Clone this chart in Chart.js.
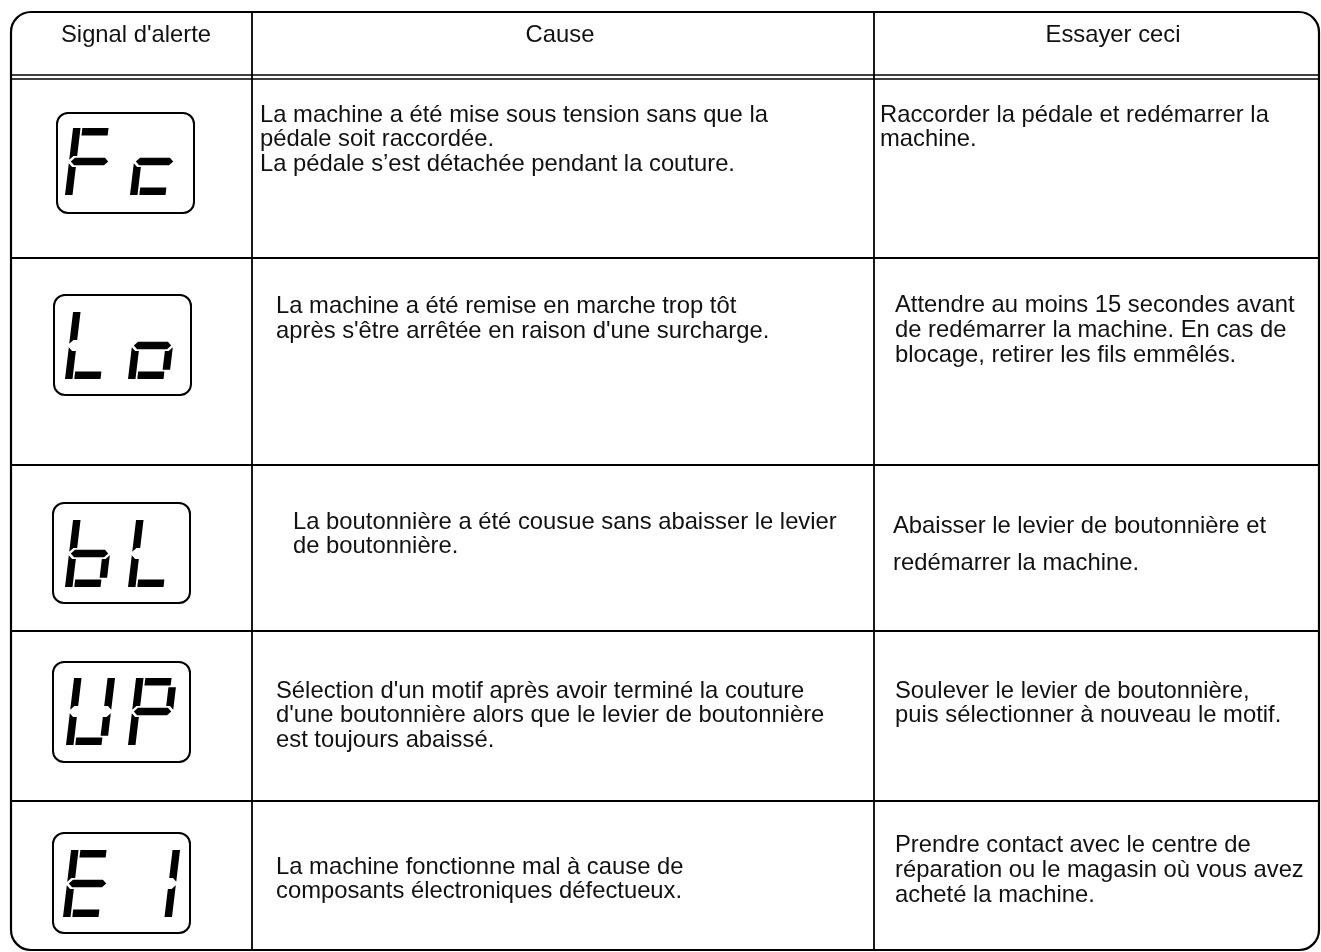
<!DOCTYPE html>
<html><head><meta charset="utf-8">
<script src="https://cdn.jsdelivr.net/npm/chart.js@4"></script>
<style>html,body{margin:0;padding:0;background:#fff}canvas{display:block}</style>
</head><body>
<canvas id="c" width="1321" height="952"></canvas>
<script>
// ---- data ----
const headers = ["Signal d'alerte", "Cause", "Essayer ceci"];
const signals = ["Fc", "Lo", "bL", "UP", "E1"];
const causes = [
  ["La machine a été mise sous tension sans que la", "pédale soit raccordée.", "La pédale s’est détachée pendant la couture."],
  ["La machine a été remise en marche trop tôt", "après s'être arrêtée en raison d'une surcharge."],
  ["La boutonnière a été cousue sans abaisser le levier", "de boutonnière."],
  ["Sélection d'un motif après avoir terminé la couture", "d'une boutonnière alors que le levier de boutonnière", "est toujours abaissé."],
  ["La machine fonctionne mal à cause de", "composants électroniques défectueux."]
];
const remedies = [
  ["Raccorder la pédale et redémarrer la", "machine."],
  ["Attendre au moins 15 secondes avant", "de redémarrer la machine. En cas de", "blocage, retirer les fils emmêlés."],
  ["Abaisser le levier de boutonnière et", "redémarrer la machine."],
  ["Soulever le levier de boutonnière,", "puis sélectionner à nouveau le motif."],
  ["Prendre contact avec le centre de", "réparation ou le magasin où vous avez", "acheté la machine."]
];
// seven-segment map
const SEG = {F:"aefg", c:"deg", L:"def", o:"cdeg", b:"cdefg", U:"bcdef", P:"abefg", E:"adefg", "1":"bc"};

// ---- layout (positions / sizes) ----
const L = {
  W: 1321, H: 952,
  outer: {x0: 11, y0: 12, x1: 1319, y1: 950, r: 20},
  cols: [252, 874],
  headerY: 35, headerX: [136, 560, 1113],
  headerLines: [75, 79],
  rowLines: [258, 465, 631, 801],
  boxes: [[57,113],[54,295],[53,503],[53,662],[53,833]],
  boxW: 137, boxH: 100, boxR: 11,
  digitOff: [[[8,15],[73,15]], [[11,17],[74,17]], [[12,17],[75,17]], [[13,16],[75,16]], [[10,17],[78,17]]],
  causePos: [[260,115,24.5],[276,306,25],[293,522,24.5],[276,691,24.5],[276,867,24.5]],
  remPos:   [[880,115,24.5],[895,305,25],[893,526,37],[895,691,24.5],[895,845,25]],
  font: '23.8px "Liberation Sans", Arial, Helvetica, sans-serif'
};

const tablePlugin = {
  id: 'tablePlugin',
  afterDraw(chart) {
    const ctx = chart.ctx;
    const xs = chart.scales.x, ys = chart.scales.y;
    const px = v => xs.getPixelForValue(v), py = v => ys.getPixelForValue(v);
    ctx.save();
    ctx.strokeStyle = '#000';
    ctx.fillStyle = '#000';
    const o = L.outer;
    ctx.lineWidth = 2.2;
    ctx.beginPath();
    ctx.roundRect(px(o.x0), py(o.y0), px(o.x1) - px(o.x0), py(o.y1) - py(o.y0), o.r);
    ctx.stroke();
    ctx.lineWidth = 1.8;
    L.cols.forEach(c => {
      ctx.beginPath(); ctx.moveTo(px(c), py(o.y0)); ctx.lineTo(px(c), py(o.y1)); ctx.stroke();
    });
    ctx.lineWidth = 1.5;
    L.headerLines.forEach(y => {
      ctx.beginPath(); ctx.moveTo(px(o.x0), py(y)); ctx.lineTo(px(o.x1), py(y)); ctx.stroke();
    });
    ctx.lineWidth = 1.8;
    L.rowLines.forEach(y => {
      ctx.beginPath(); ctx.moveTo(px(o.x0), py(y)); ctx.lineTo(px(o.x1), py(y)); ctx.stroke();
    });
    ctx.font = L.font;
    ctx.textBaseline = 'middle';
    ctx.textAlign = 'center';
    ctx.fillStyle = '#111';
    headers.forEach((h, i) => ctx.fillText(h, px(L.headerX[i]), py(L.headerY)));
    ctx.textAlign = 'left';
    causes.forEach((lines, r) => {
      const [x, y0, dy] = L.causePos[r];
      lines.forEach((t, k) => ctx.fillText(t, px(x), py(y0 + k * dy)));
    });
    remedies.forEach((lines, r) => {
      const [x, y0, dy] = L.remPos[r];
      lines.forEach((t, k) => ctx.fillText(t, px(x), py(y0 + k * dy)));
    });
    ctx.fillStyle = '#000';
    signals.forEach((s, r) => {
      const [bx, by] = L.boxes[r];
      ctx.lineWidth = 2;
      ctx.beginPath();
      ctx.roundRect(px(bx), py(by), L.boxW, L.boxH, L.boxR);
      ctx.stroke();
      [...s].forEach((ch, i) => {
        const [ox, oy] = L.digitOff[r][i];
        drawDigit(ctx, px(bx + ox), py(by + oy), SEG[ch] || '');
      });
    });
    ctx.restore();
  }
};

function drawDigit(ctx, x0, y0, segs) {
  const W = 41, H = 67, t = 7.5, g = 1.8, slant = 0.12;
  const M = H / 2, h2 = t / 2;
  const has = k => segs.indexOf(k) >= 0;
  const hx1 = t + g, hx2 = W - t + 2;
  const polys = {
    a: [[hx1,0],[hx2,0],[hx2,t],[hx1,t]],
    d: [[hx1,H-t],[hx2,H-t],[hx2,H],[hx1,H]],
    g: [[g,M],[g+h2,M-h2],[W-g-h2,M-h2],[W-g,M],[W-g-h2,M+h2],[g+h2,M+h2]],
    f: [[0,0],[t,0],[t,M-h2-g],[h2,M-h2-g+ (h2-g)*0],[0,M-g]],
    e: [[0,M+g],[h2,M+h2+g],[t,M+h2+g],[t,H],[0,H]],
    b: [[W-t,has('a')?t+g:0],[W,has('a')?t+g:0],[W,M-g],[W-h2,M-h2-g],[W-t,M-h2-g]],
    c: [[W-t,M+h2+g],[W-h2,M+h2+g],[W,M+g],[W,has('d')?H-t-g:H],[W-t,has('d')?H-t-g:H]]
  };
  const tr = ([x, y]) => [x0 + x + (H - y) * slant, y0 + y];
  [...segs].forEach(k => {
    const pts = polys[k].map(tr);
    ctx.beginPath();
    pts.forEach((p, i) => i ? ctx.lineTo(p[0], p[1]) : ctx.moveTo(p[0], p[1]));
    ctx.closePath();
    ctx.fill();
  });
}

new Chart(document.getElementById('c'), {
  type: 'scatter',
  data: { datasets: [{ data: [], pointRadius: 0 }] },
  options: {
    responsive: false,
    animation: false,
    devicePixelRatio: 1,
    layout: { padding: 0 },
    plugins: { legend: { display: false }, tooltip: { enabled: false } },
    scales: {
      x: { type: 'linear', min: 0, max: L.W, display: false },
      y: { type: 'linear', min: 0, max: L.H, reverse: true, display: false }
    }
  },
  plugins: [tablePlugin]
});
</script>
</body></html>
